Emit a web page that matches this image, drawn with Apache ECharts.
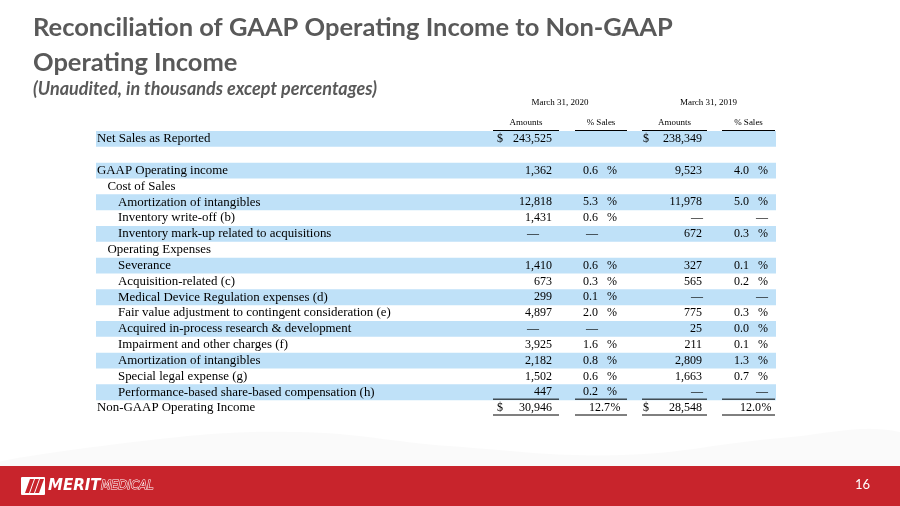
<!DOCTYPE html>
<html>
<head>
<meta charset="utf-8">
<script src="https://cdn.jsdelivr.net/npm/echarts@6/dist/echarts.min.js"></script>
<style>html,body{margin:0;padding:0;background:#fff}#c{width:900px;height:506px}</style>
</head>
<body>
<div id="c"></div>
<script>
// ---------- data ----------
const titleLines = ['Reconciliation of GAAP Operating Income to Non-GAAP', 'Operating Income'];
const subtitle = '(Unaudited, in thousands except percentages)';
const periods = ['March 31, 2020', 'March 31, 2019'];
const colHeads = ['Amounts', '% Sales', 'Amounts', '% Sales'];
const rowLabels = [
  'Net Sales as Reported', '', 'GAAP Operating income', 'Cost of Sales',
  'Amortization of intangibles', 'Inventory write-off (b)', 'Inventory mark-up related to acquisitions',
  'Operating Expenses', 'Severance', 'Acquisition-related (c)', 'Medical Device Regulation expenses (d)',
  'Fair value adjustment to contingent consideration (e)', 'Acquired in-process research & development',
  'Impairment and other charges (f)', 'Amortization of intangibles', 'Special legal expense (g)',
  'Performance-based share-based compensation (h)', 'Non-GAAP Operating Income'
];
const rowLevel = [0,0,0,1,2,2,2,1,2,2,2,2,2,2,2,2,2,0];
// null = blank cell, '—' = nil
const amt2020 = [243525, null, 1362, null, 12818, 1431, '—', null, 1410, 673, 299, 4897, '—', 3925, 2182, 1502, 447, 30946];
const pct2020 = [null, null, 0.6, null, 5.3, 0.6, '—', null, 0.6, 0.3, 0.1, 2.0, '—', 1.6, 0.8, 0.6, 0.2, 12.7];
const amt2019 = [238349, null, 9523, null, 11978, '—', 672, null, 327, 565, '—', 775, 25, 211, 2809, 1663, '—', 28548];
const pct2019 = [null, null, 4.0, null, 5.0, '—', 0.3, null, 0.1, 0.2, '—', 0.3, 0.0, 0.1, 1.3, 0.7, '—', 12.0];
const dollarRows = [0, 17];
const pageNumber = '16';

// ---------- layout ----------
const LABEL_FONT = '12.9px "Liberation Serif", "Times New Roman", serif';
const BODY_FONT = '12px "Liberation Serif", "Times New Roman", serif';
const HEAD_FONT = '9px "Liberation Serif", "Times New Roman", serif';
const TITLE_FONT = 'bold 25.5px Lato, "Open Sans", sans-serif';
const BAND = '#BFE1F8';
const RED = '#C8242C';
const colSpan = [[493, 559], [575, 627], [642, 707], [722, 775]];
const amtRight = [552, 702];
const dollarX = [497, 643];
const pctRight = [598, 749];
const pctSign = [607, 758];
const amtDashRight = [539, 703];
const pctDashRight = [598, 768];

function fmtAmt(v) { return v.toLocaleString('en-US'); }

function txt(x, y, s, align, font, color) {
  return { type: 'text', x: x, y: y, style: { text: s, align: align || 'left', verticalAlign: 'middle', font: font || BODY_FONT, fill: color || '#000' } };
}

function renderRow(params, api) {
  const i = api.value(1);
  const c = api.coord([0, i]);
  const y = c[1];
  const h = api.size([0, 1])[1];
  const X = v => api.coord([v, i])[0];
  const kids = [];
  if (i % 2 === 0) {
    kids.push({ type: 'rect', shape: { x: X(96), y: y - h / 2, width: X(776) - X(96), height: h }, style: { fill: BAND } });
  }
  if (rowLabels[i]) kids.push(txt(X(97 + rowLevel[i] * 10.5), y, rowLabels[i], 'left', LABEL_FONT));
  const isTotal = i === rowLabels.length - 1;
  [amt2020, amt2019].forEach((arr, k) => {
    const v = arr[i];
    if (v === null) return;
    if (v === '—') { kids.push(txt(X(amtDashRight[k]), y, '—', 'right')); return; }
    kids.push(txt(X(amtRight[k]), y, fmtAmt(v), 'right'));
    if (dollarRows.indexOf(i) >= 0) kids.push(txt(X(dollarX[k]), y, '$', 'left'));
  });
  [pct2020, pct2019].forEach((arr, k) => {
    const v = arr[i];
    if (v === null) return;
    if (v === '—') { kids.push(txt(X(pctDashRight[k]), y, '—', 'right')); return; }
    if (isTotal) {
      kids.push(txt(X(pctSign[k] + 3), y, v.toFixed(1), 'right'));
      kids.push(txt(X(pctSign[k] + 3.5), y, '%', 'left'));
    } else {
      kids.push(txt(X(pctRight[k]), y, v.toFixed(1), 'right'));
      kids.push(txt(X(pctSign[k]), y, '%', 'left'));
    }
  });
  if (i === 0) {
    colSpan.forEach((s, k) => {
      kids.push({ type: 'line', shape: { x1: X(s[0]), y1: y - h / 2 - 0.5, x2: X(s[1]), y2: y - h / 2 - 0.5 }, style: { stroke: '#000', lineWidth: 1 } });
      kids.push(txt((X(s[0]) + X(s[1])) / 2, y - h - 0.5, colHeads[k], 'center', HEAD_FONT));
    });
    periods.forEach((p, k) => {
      const a = colSpan[k * 2][0], b = colSpan[k * 2 + 1][1];
      kids.push(txt((X(a) + X(b)) / 2, y - 2.3 * h, p, 'center', HEAD_FONT));
    });
  }
  if (i === rowLabels.length - 2 || isTotal) {
    colSpan.forEach(s => {
      kids.push({ type: 'line', shape: { x1: X(s[0]), y1: y + h / 2 - 1, x2: X(s[1]), y2: y + h / 2 - 1 }, style: { stroke: '#000', lineWidth: 1 } });
    });
  }
  return { type: 'group', children: kids };
}

const chart = echarts.init(document.getElementById('c'), null, { renderer: 'canvas' });
chart.setOption({
  animation: false,
  backgroundColor: '#ffffff',
  grid: { left: 0, right: 0, top: 131, height: 285 },
  xAxis: { type: 'value', min: 0, max: 900, show: false },
  yAxis: { type: 'category', data: rowLabels.map((r, i) => 'r' + i), inverse: true, show: false },
  graphic: [
    { type: 'polygon', z: -10, shape: { smooth: 0.4, points: [[0, 466], [150, 440], [300, 432], [450, 446], [620, 455], [780, 438], [900, 432], [900, 466]] }, style: { fill: 'rgba(0,0,0,0.018)' } },
    { type: 'text', x: 33, y: 28, style: { text: titleLines[0], font: TITLE_FONT, fill: '#595959', verticalAlign: 'middle' } },
    { type: 'text', x: 33, y: 63, style: { text: titleLines[1], font: TITLE_FONT, fill: '#595959', verticalAlign: 'middle' } },
    { type: 'text', x: 33, y: 89, style: { text: subtitle, font: 'italic bold 18px Lato, "Open Sans", sans-serif', fill: '#595959', verticalAlign: 'middle' } },
    { type: 'rect', shape: { x: 0, y: 466, width: 900, height: 40 }, style: { fill: RED } },
    { type: 'text', x: 870, y: 485, style: { text: pageNumber, font: '13px Lato, sans-serif', fill: '#fff', align: 'right', verticalAlign: 'middle' } },
    { type: 'rect', shape: { x: 21, y: 477, width: 24, height: 18, r: 1 }, style: { fill: '#fff' } },
    { type: 'polygon', shape: { points: [[25, 493], [29, 493], [34, 479], [30, 479]] }, style: { fill: RED } },
    { type: 'polygon', shape: { points: [[30, 493], [34, 493], [39, 479], [35, 479]] }, style: { fill: RED } },
    { type: 'polygon', shape: { points: [[35, 493], [39, 493], [44, 479], [40, 479]] }, style: { fill: RED } },
    { type: 'text', x: 48, y: 486, style: { text: 'MERIT', font: 'italic 900 15px "DejaVu Sans", sans-serif', fill: '#fff', verticalAlign: 'middle' } },
    { type: 'text', x: 101, y: 486, style: { text: 'MEDICAL', font: 'italic 13px "DejaVu Sans Condensed", sans-serif', fill: RED, stroke: '#fff', lineWidth: 1, verticalAlign: 'middle' } }
  ],
  series: [{
    type: 'custom',
    renderItem: renderRow,
    encode: { x: 0, y: 1 },
    data: rowLabels.map((r, i) => [0, i]),
    silent: true
  }]
});
</script>
</body>
</html>
